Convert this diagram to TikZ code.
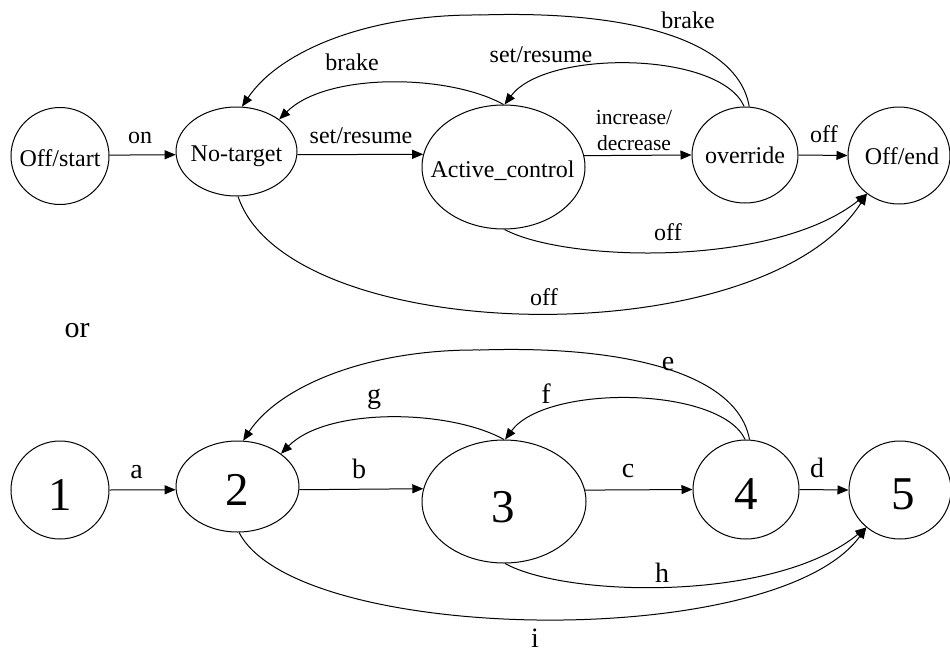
\documentclass[tikz,border=0pt]{standalone}
\usepackage{fontspec}
\setmainfont{Liberation Serif}
\usetikzlibrary{arrows.meta,shapes.geometric}
\begin{document}
\tikzset{
  state/.style={draw, ellipse, line width=1pt, inner sep=0pt},
  txt/.style={anchor=base, inner sep=0pt, font=\fontsize{24}{28}\selectfont},
  small/.style={anchor=base, inner sep=0pt, align=center, font=\fontsize{21.5}{26}\selectfont},
  letter/.style={anchor=base, inner sep=0pt, font=\fontsize{28}{32}\selectfont},
  digit/.style={anchor=base, inner sep=0pt, font=\fontsize{47}{50}\selectfont},
  edge/.style={line width=1pt, -{Triangle[length=11pt,width=9pt]}},
}
\begin{tikzpicture}[x=1pt,y=-1pt]
\useasboundingbox (0,0) rectangle (950,653);

% ---------- named states ----------
\node[state, minimum width=98pt,  minimum height=97pt]  (ot) at (60,156) {};
\node[state, minimum width=121pt, minimum height=89pt]  (nt) at (236.5,151.5) {};
\node[state, minimum width=163pt, minimum height=124pt] (ac) at (503.5,167) {};
\node[state, minimum width=106pt, minimum height=96pt]  (ov) at (745,155) {};
\node[state, minimum width=102pt, minimum height=97pt]  (oe) at (899,155.5) {};

\node[txt] (ot-t) at (60,166) {Off/start};
\node[txt] (nt-t) at (236.5,161) {No-target};
\node[txt] (ac-t) at (502.5,177) {Active\_control};
\node[txt] (ov-t) at (745,163) {override};
\node[txt] (oe-t) at (902,164) {Off/end};

% straight transitions
\draw[edge] (ot.1) -- (nt.183.3);
\draw[edge] (nt.-3.3) -- (ac.171.5);
\draw[edge] (ac.8.5) -- (ov.180);
\draw[edge] (ov.0) -- (oe.180);

\node[txt] (l-on)  at (140,143) {on};
\node[txt] (l-sr1) at (361,143) {set/resume};
\node[small] (l-id) at (634,150) {increase/\\decrease};
\node[txt] (l-off1) at (824,142) {off};

% curved transitions
\draw[edge] (ov.85) .. controls (738,40) and (630,10) .. (480,15)
            .. controls (370,14) and (280,50) .. (nt.83);
\draw[edge] (ov.91) .. controls (720,51) and (546,49) .. (ac.89.5);
\draw[edge] (ac.90.5) .. controls (449,74) and (327,72) .. (nt.37);
\draw[edge] (ac.-89) .. controls (565,262) and (774,268) .. (oe.230);
\draw[edge] (nt.-88) .. controls (288,347) and (762,358) .. (oe.230);

\node[txt] (l-br2) at (688,28) {brake};
\node[txt] (l-sr2) at (541,62) {set/resume};
\node[txt] (l-br1) at (352,70) {brake};
\node[txt] (l-off2) at (668,240) {off};
\node[txt] (l-off3) at (544,305) {off};

\node[anchor=base, inner sep=0pt, font=\fontsize{30}{34}\selectfont] (or) at (77,337) {or};

% ---------- numbered states ----------
\node[state, minimum width=98pt,  minimum height=98pt]  (n1) at (60,490) {};
\node[state, minimum width=123pt, minimum height=91pt]  (n2) at (237.5,486.5) {};
\node[state, minimum width=164pt, minimum height=123pt] (n3) at (504,501.5) {};
\node[state, minimum width=106pt, minimum height=99pt]  (n4) at (746,489.5) {};
\node[state, minimum width=102pt, minimum height=98pt]  (n5) at (900,490) {};

\node[digit] (n1-t) at (60,510) {1};
\node[digit] (n2-t) at (237.5,505) {2};
\node[digit] (n3-t) at (503.5,522) {3};
\node[digit] (n4-t) at (746,509) {4};
\node[digit] (n5-t) at (903,509) {5};

\draw[edge] (n1.0) -- (n2.183.3);
\draw[edge] (n2.-3.3) -- (n3.171.9);
\draw[edge] (n3.8.1) -- (n4.180);
\draw[edge] (n4.0) -- (n5.180);

\draw[edge] (n4.86) .. controls (738,375) and (630,345) .. (480,350)
            .. controls (370,349) and (280,385) .. (n2.83);
\draw[edge] (n4.91) .. controls (720,386) and (546,384) .. (n3.89.5);
\draw[edge] (n3.90.5) .. controls (449,409) and (327,407) .. (n2.37);
\draw[edge] (n3.-89) .. controls (565,597) and (774,603) .. (n5.228);
\draw[edge] (n2.-88) .. controls (296.5,644.5) and (775.7,652.7) .. (n5.228);

\node[letter] (l-a) at (136.5,478) {a};
\node[letter] (l-b) at (359,478) {b};
\node[letter] (l-c) at (628,477) {c};
\node[letter] (l-d) at (817,477) {d};
\node[letter] (l-e) at (668,370) {e};
\node[letter] (l-f) at (546,403) {f};
\node[letter] (l-g) at (374,403) {g};
\node[letter] (l-h) at (662,582) {h};
\node[letter] (l-i) at (535,647) {i};
\end{tikzpicture}
\end{document}
